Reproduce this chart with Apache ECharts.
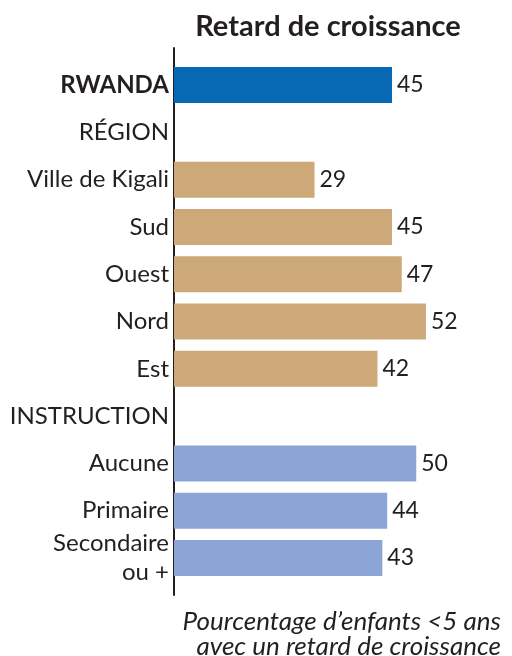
<!DOCTYPE html>
<html>
<head>
<meta charset="utf-8">
<script src="https://cdn.jsdelivr.net/npm/echarts@6/dist/echarts.min.js"></script>
<style>
html, body { margin: 0; padding: 0; background: #fff; }
#chart { width: 512px; height: 656px; }
</style>
</head>
<body>
<div id="chart"></div>
<script>
// rows top to bottom; header rows have no value
var categories = ['RWANDA', 'RÉGION', 'Ville de Kigali', 'Sud', 'Ouest', 'Nord', 'Est',
                  'INSTRUCTION', 'Aucune', 'Primaire', 'Secondaire\nou +'];
var values = [45, null, 29, 45, 47, 52, 42, null, 50, 44, 43];
var groups = ['total', 'head', 'region', 'region', 'region', 'region', 'region',
              'head', 'instruction', 'instruction', 'instruction'];

var groupColors = { total: '#0769b4', region: '#cda878', instruction: '#8ca5d7' };
var font = 'Lato';

var barData = [];
for (var i = 0; i < values.length; i++) {
    barData.push({
        value: values[i],
        itemStyle: { color: groupColors[groups[i]] || '#ccc' }
    });
}

var myChart = echarts.init(document.getElementById('chart'));
var option = {
    animation: false,
    title: [
        {
            text: 'Retard de croissance',
            left: 323,
            top: 7,
            textAlign: 'center',
            textStyle: { fontFamily: font, fontSize: 29, fontWeight: 'bold', color: '#231f20' }
        },
        {
            text: 'Pourcentage d\u2019enfants <5 ans\navec un retard de croissance',
            left: 496,
            top: 604,
            textAlign: 'right',
            textStyle: { fontFamily: font, fontSize: 26, fontStyle: 'italic', fontWeight: 'normal',
                         color: '#231f20', lineHeight: 25 }
        }
    ],
    grid: [
        { left: 174, top: 61.4, width: 290.7, height: 520.3 },
        // second grid only carries the taller vertical rule
        { left: 174, top: 48, width: 290.7, height: 547 }
    ],
    xAxis: [
        { type: 'value', gridIndex: 0, min: 0, max: 60, show: false },
        { type: 'value', gridIndex: 1, min: 0, max: 60, show: false }
    ],
    yAxis: [
        {
            type: 'category',
            gridIndex: 0,
            inverse: true,
            data: categories,
            axisLine: { show: false },
            axisTick: { show: false },
            axisLabel: {
                margin: 5,
                fontFamily: font,
                fontSize: 24,
                color: '#231f20',
                lineHeight: 29,
                formatter: function (v) {
                    return v === 'RWANDA' ? '{b|' + v + '}' : v;
                },
                rich: {
                    b: { fontFamily: font, fontSize: 24, fontWeight: 'bold', color: '#231f20' }
                }
            }
        },
        {
            type: 'value',
            gridIndex: 1,
            axisLine: { show: true, lineStyle: { color: '#231f20', width: 2 } },
            axisTick: { show: false },
            axisLabel: { show: false },
            splitLine: { show: false }
        }
    ],
    series: [
        {
            type: 'bar',
            xAxisIndex: 0,
            yAxisIndex: 0,
            data: barData,
            barWidth: 36,
            label: {
                show: true,
                position: 'right',
                distance: 5,
                fontFamily: font,
                fontSize: 23,
                color: '#231f20'
            }
        }
    ]
};
myChart.setOption(option);
</script>
</body>
</html>
